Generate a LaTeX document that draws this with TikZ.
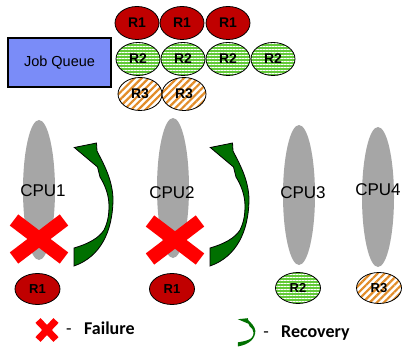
\documentclass[tikz,border=0pt]{standalone}
\usepackage{fontspec}
\setmainfont{Liberation Sans}
\newfontfamily\calib{Carlito}
\usetikzlibrary{shapes.geometric,patterns.meta}
\definecolor{jqblue}{RGB}{122,140,248}
\definecolor{rred}{RGB}{192,0,0}
\definecolor{rgreen}{RGB}{98,202,56}
\definecolor{rorange}{RGB}{226,140,40}
\definecolor{cpugray}{RGB}{166,166,166}
\definecolor{xred}{RGB}{255,0,0}
\definecolor{agreen}{RGB}{0,112,0}
\begin{document}
\begin{tikzpicture}[x=1pt,y=-1pt,
  job/.style={ellipse,draw=black,line width=0.8pt,minimum width=44pt,minimum height=33pt,inner sep=0pt,font=\fontsize{14}{14}\selectfont\bfseries},
  small/.style={minimum width=45pt,minimum height=31pt,font=\fontsize{13}{13}\selectfont\bfseries},
  rone/.style={job,fill=rred},
  rtwo/.style={job,preaction={fill=rgreen},pattern={Lines[angle=0,distance=3pt,line width=1pt]},pattern color=white},
  rthree/.style={job,preaction={fill=white},pattern={Lines[angle=45,distance=5pt,line width=2.2pt]},pattern color=rorange},
  cpu/.style={ellipse,fill=cpugray,minimum width=32pt,minimum height=140pt,inner sep=0pt},
  cpulabel/.style={font=\fontsize{17}{17}\selectfont,inner sep=0pt},
  xmark/.style={draw=xred,line width=14pt},
  recarrow/.style={fill=agreen,draw=black,line width=0.8pt,line join=miter},
  legtext/.style={font=\calib\fontsize{18}{18}\selectfont\bfseries,anchor=base west,inner sep=0pt},
  dashtext/.style={font=\calib\fontsize{18}{18}\selectfont,anchor=base,inner sep=0pt}
]
\useasboundingbox (0,0) rectangle (403,347);

% Job queue
\node[draw=black,line width=1.2pt,fill=jqblue,minimum width=103pt,minimum height=49pt,inner sep=0pt,font=\fontsize{14.5}{14.5}\selectfont] (jq) at (59.5,62.5) {Job Queue};

\node[rone] (q11) at (137,23) {R1};
\node[rone] (q12) at (182,23) {R1};
\node[rone] (q13) at (228,23) {R1};
\node[rtwo] (q21) at (138,59) {R2};
\node[rtwo] (q22) at (183,59) {R2};
\node[rtwo] (q23) at (228,59) {R2};
\node[rtwo] (q24) at (273,59) {R2};
\node[rthree] (q31) at (140,94) {R3};
\node[rthree] (q32) at (184,94) {R3};

% CPUs
\node[cpu] (cpu1) at (39,190) {};
\node[cpu] (cpu2) at (173,188) {};
\node[cpu] (cpu3) at (299,195) {};
\node[cpu] (cpu4) at (378,197) {};
\node[cpulabel] (l1) at (43,191) {CPU1};
\node[cpulabel] (l2) at (172,193) {CPU2};
\node[cpulabel] (l3) at (303,193) {CPU3};
\node[cpulabel] (l4) at (378,190) {CPU4};

% failure marks
\draw[xmark] (14,220) -- (64,258) (14,258) -- (64,220);
\draw[xmark] (150,221) -- (200,259) (150,259) -- (200,221);

% recovery arrows
\foreach \dx in {0,136}{
\begin{scope}[shift={(\dx,0)}]
\path[recarrow] (74.3,147.5) -- (96.5,143) -- (97,151)
  .. controls (103,163) and (112,178) .. (113,198)
  .. controls (113,232) and (100,257) .. (74,266)
  -- (74,248)
  .. controls (88,244) and (99,238) .. (104,230)
  .. controls (108,222) and (109,214) .. (109,206)
  .. controls (109,195) and (105,185) .. (100,177)
  -- (97.5,167) -- cycle;
\end{scope}}

% running jobs
\node[rone,small] (b1) at (37.5,289) {R1};
\node[rone,small] (b2) at (172,289) {R1};
\node[rtwo,small] (b3) at (298,288) {R2};
\node[rthree,small] (b4) at (379,288) {R3};

% legend
\draw[xmark,line width=7pt] (38,320.5) -- (56,339.5) (38,339.5) -- (56,320.5);
\node[dashtext] (d1) at (69,334) {-};
\node[legtext] (fail) at (84,334) {Failure};
\begin{scope}[shift={(204.5,285.3)},xscale=0.45,yscale=0.23]
\path[fill=agreen] (74.3,147.5) -- (96.5,143) -- (97,151)
  .. controls (103,163) and (112,178) .. (113,198)
  .. controls (113,232) and (100,257) .. (74,266)
  -- (74,248)
  .. controls (88,244) and (99,238) .. (104,230)
  .. controls (108,222) and (109,214) .. (109,206)
  .. controls (109,195) and (105,185) .. (100,177)
  -- (97.5,167) -- cycle;
\end{scope}
\node[dashtext] (d2) at (266,337) {-};
\node[legtext] (recov) at (281,337) {Recovery};
\end{tikzpicture}
\end{document}
